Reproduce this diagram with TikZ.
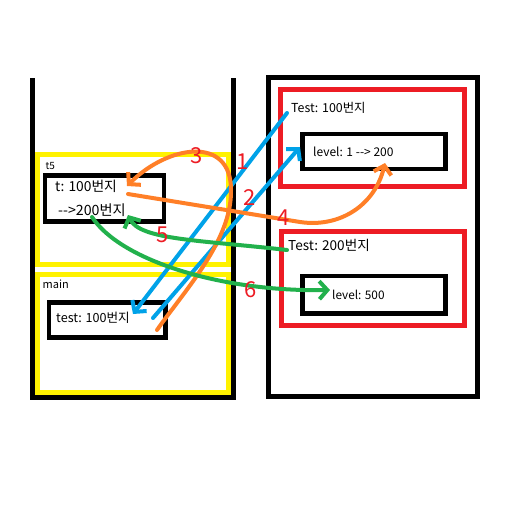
\documentclass[tikz,border=0pt]{standalone}
\usepackage{fontspec}
\setmainfont{Noto Sans CJK KR}
\usetikzlibrary{arrows.meta}
\definecolor{pblue}{HTML}{00A2E8}
\definecolor{porange}{HTML}{FF7F27}
\definecolor{pgreen}{HTML}{22B14C}
\definecolor{pred}{HTML}{ED1C24}
\definecolor{pyellow}{HTML}{FFF200}
\tikzset{
  frame/.style={draw=black, line width=5pt, line join=miter},
  ybox/.style={draw=pyellow, line width=5pt},
  rbox/.style={draw=pred, line width=5pt},
  inbox/.style={draw=black, line width=4.8pt},
  txt/.style={anchor=west, inner sep=0pt, font=\fontsize{12}{14}\selectfont},
  small/.style={anchor=west, inner sep=0pt, font=\fontsize{10}{12}\selectfont},
  num/.style={text=pred, inner sep=0pt, font=\fontsize{22}{24}\selectfont},
  arr/.style={line width=4pt, line cap=round,
    -{Straight Barb[length=8pt,width=18pt,line width=4pt]}},
  barrow/.style={arr, draw=pblue},
  oarrow/.style={arr, draw=porange},
  garrow/.style={arr, draw=pgreen},
}
\begin{document}
\begin{tikzpicture}[x=1pt,y=-1pt]
\useasboundingbox[fill=white] (0,0) rectangle (512,512);
% left stack (open top)
\draw[frame] (32.5,78) -- (32.5,397.5) -- (233.5,397.5) -- (233.5,78);
\node[ybox, minimum width=191pt, minimum height=110pt, inner sep=0pt] (t5frame) at (133,209.5) {};
\node[ybox, minimum width=191pt, minimum height=118pt, inner sep=0pt] (mainframe) at (133,333.5) {};
\node[inbox, minimum width=119pt, minimum height=46pt, inner sep=0pt] (tbox) at (104.5,198.5) {};
\node[inbox, minimum width=116.5pt, minimum height=35pt, inner sep=0pt] (testbox) at (107.25,320) {};
\node[small] (t5lab) at (45.5,166) {t5};
\node[txt, font=\fontsize{11}{13}\selectfont] (mainlab) at (42.5,284) {main};
\node[txt, font=\fontsize{13.8}{15}\selectfont] (ttxt) at (55,186) {t: 100번지};
\node[txt, font=\fontsize{14.2}{15}\selectfont] (t2txt) at (58,210) {-{}->200번지};
\node[txt, font=\fontsize{12.6}{14}\selectfont] (testtxt) at (56,318) {test: 100번지};
% right heap
\node[frame, minimum width=209pt, minimum height=319pt, inner sep=0pt] (heap) at (373,237) {};
\node[rbox, minimum width=184pt, minimum height=97pt, inner sep=0pt] (obj1) at (372.5,138) {};
\node[rbox, minimum width=183pt, minimum height=94pt, inner sep=0pt] (obj2) at (373,278) {};
\node[inbox, minimum width=143pt, minimum height=35pt, inner sep=0pt] (lvl1box) at (374,151.5) {};
\node[inbox, minimum width=143pt, minimum height=37.5pt, inner sep=0pt] (lvl2box) at (374,294.75) {};
\node[txt, font=\fontsize{12.4}{14}\selectfont] (obj1txt) at (291,108) {Test: 100번지};
\node[txt] (lvl1txt) at (313,152) {level: 1 -{}-> 200};
\node[txt, font=\fontsize{13.6}{15}\selectfont] (obj2txt) at (288,245) {Test: 200번지};
\node[txt, font=\fontsize{11.8}{14}\selectfont] (lvl2txt) at (332,295) {level: 500};
% arrow end points
\coordinate (a1s) at (287,113);
\coordinate (a1e) at (133,314);
\coordinate (a2s) at (153,318);
\coordinate (a2e) at (300,147);
\coordinate (a3s) at (157,330);
\coordinate (a3m) at (231,190);
\coordinate (a3e) at (127,186);
\coordinate (a4s) at (128,194);
\coordinate (a4m) at (300,222);
\coordinate (a4e) at (385,163);
\coordinate (a5s) at (287,250);
\coordinate (a5e) at (128,215);
\coordinate (a6s) at (92,217);
\coordinate (a6e) at (330,290);
% arrows
\draw[barrow] (a1s) -- (a1e);
\draw[barrow] (a2s) -- (a2e);
\draw[oarrow] (a3s) .. controls (185,290) and (232,240) .. (a3m)
   .. controls (231,135) and (168,145) .. (a3e);
\draw[oarrow] (a4s) -- (a4m) .. controls (340,228) and (375,205) .. (a4e);
\draw[garrow] (a5s) .. controls (200,240) and (140,240) .. (a5e);
\draw[garrow] (a6s) .. controls (120,260) and (220,292) .. (a6e);
% step numbers
\node[num] (n1) at (243,162) {1};
\node[num] (n2) at (250,198) {2};
\node[num] (n3) at (197,156) {3};
\node[num] (n4) at (284,218) {4};
\node[num] (n5) at (163,235) {5};
\node[num] (n6) at (251,290) {6};
\end{tikzpicture}
\end{document}
